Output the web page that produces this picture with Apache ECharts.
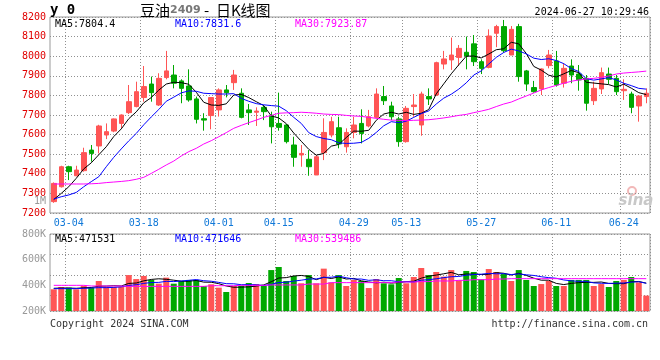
<!DOCTYPE html>
<html><head><meta charset="utf-8">
<script src="https://cdn.jsdelivr.net/npm/echarts@6/dist/echarts.min.js"></script>
<style>html,body{margin:0;padding:0;background:#fff}#c{width:660px;height:360px}</style>
</head><body><div id="c"></div>
<script>
const dates = ['02-29','03-01','03-04','03-05','03-06','03-07','03-08','03-11','03-12','03-13','03-14','03-15','03-18','03-19','03-20','03-21','03-22','03-25','03-26','03-27','03-28','03-29','04-01','04-02','04-03','04-08','04-09','04-10','04-11','04-12','04-15','04-16','04-17','04-18','04-19','04-22','04-23','04-24','04-25','04-26','04-29','04-30','05-06','05-07','05-08','05-09','05-10','05-13','05-14','05-15','05-16','05-17','05-20','05-21','05-22','05-23','05-24','05-27','05-28','05-29','05-30','05-31','06-03','06-04','06-05','06-06','06-07','06-11','06-12','06-13','06-14','06-17','06-18','06-19','06-20','06-21','06-24','06-25','06-26','06-27'];
const tickDates = ['03-04','03-18','04-01','04-15','04-29','05-13','05-27','06-11','06-24'];
const opens  = [7258,7334,7436,7390,7416,7521,7542,7598,7618,7657, 7712,7743,7789,7858,7751,7891,7904,7874,7848,7782, 7681,7697,7726,7828,7865,7811,7726,7714,7739,7697, 7657,7649,7547,7496,7474,7394,7508,7598,7635,7538, 7611,7657,7644,7688,7794,7746,7680,7564,7743,7649, 7794,7802,7960,7981,7994,8020,8063,7972,7943,8117, 8151,8006,8151,7925,7840,7833,7952,7976,7862,7950, 7909,7887,7773,7833,7909,7887,7824,7807,7746,7794];
const closes = [7351,7436,7411,7419,7508,7504,7644,7615,7680,7700, 7768,7819,7845,7814,7887,7925,7862,7836,7777,7678, 7674,7789,7828,7814,7904,7688,7712,7720,7717,7640, 7637,7564,7484,7504,7436,7487,7611,7666,7552,7611, 7649,7606,7691,7807,7773,7691,7564,7734,7751,7807, 7782,7967,7986,8006,8040,8001,7972,7938,8103,8151, 8028,8137,7896,7858,7819,7935,8006,7853,7938,7904, 7879,7760,7836,7916,7882,7819,7831,7739,7797,7811];
const lows   = [7252,7330,7368,7388,7411,7462,7504,7577,7612,7632, 7705,7739,7768,7768,7746,7882,7836,7760,7768,7657, 7620,7627,7692,7790,7828,7683,7649,7644,7674,7555, 7620,7555,7436,7436,7390,7394,7470,7586,7530,7508, 7581,7555,7637,7683,7751,7674,7538,7559,7691,7594, 7751,7797,7933,7930,7950,7933,7950,7909,7938,8046, 8018,8006,7870,7823,7814,7802,7938,7845,7840,7862, 7824,7722,7751,7807,7858,7802,7777,7709,7666,7760];
const highs  = [7356,7441,7441,7441,7533,7547,7650,7657,7682,7703, 7853,7870,7950,7896,7913,8027,7955,7882,7933,7794, 7709,7789,7836,7853,7930,7836,7756,7739,7751,7717, 7814,7654,7589,7547,7521,7496,7683,7691,7691,7632, 7691,7729,7726,7836,7848,7768,7691,7746,7807,7819, 7836,7972,8027,8095,8057,8100,8108,7984,8137,8160, 8185,8154,8165,7930,7874,7938,8032,8027,7964,7984, 7955,7904,7870,7942,7942,7904,7882,7819,7802,7836];
const ma5  = [7269,7300,7334,7377,7425,7456,7497,7538,7590,7629, 7681,7716,7762,7789,7827,7858,7867,7865,7857,7816, 7765,7751,7749,7757,7802,7805,7789,7768,7748,7695, 7685,7656,7608,7566,7525,7495,7504,7541,7550,7585, 7618,7617,7622,7673,7705,7714,7705,7714,7703,7709, 7728,7808,7859,7910,7956,8000,8001,7991,8011,8033, 8038,8071,8063,8014,7948,7929,7903,7894,7910,7927, 7916,7867,7863,7859,7855,7843,7857,7837,7814,7804];
const ma10 = [7271,7283,7292,7305,7334,7360,7385,7436,7484,7527, 7568,7606,7650,7690,7728,7770,7791,7813,7823,7821, 7811,7809,7807,7807,7809,7785,7770,7758,7752,7748, 7745,7722,7688,7657,7610,7590,7580,7574,7558,7555, 7556,7560,7581,7611,7645,7666,7661,7668,7688,7707, 7721,7756,7786,7806,7832,7864,7904,7925,7960,7994, 8019,8036,8027,8012,7990,7983,7987,7978,7962,7937, 7922,7885,7878,7884,7891,7879,7862,7850,7836,7832];
const ma30 = [7348,7348,7348,7348,7348,7349,7351,7355,7358,7361, 7365,7372,7382,7402,7423,7445,7465,7491,7513,7530, 7552,7569,7589,7610,7632,7647,7661,7674,7688,7698, 7709,7711,7712,7714,7712,7709,7705,7703,7702,7698, 7695,7693,7688,7683,7678,7674,7673,7671,7673,7674, 7676,7680,7685,7691,7698,7703,7712,7720,7729,7743, 7756,7766,7782,7797,7812,7828,7840,7851,7862,7872, 7879,7884,7887,7892,7899,7909,7914,7917,7920,7924];
const volK = [369,387,382,369,397,382,434,387,387,387, 480,449,473,442,413,460,413,434,442,442, 395,408,382,348,395,397,418,410,395,519, 543,434,473,416,480,416,530,423,480,395, 442,434,379,449,416,408,457,416,465,535, 480,504,468,519,439,512,504,447,527,504, 488,434,519,442,395,410,434,395,395,442, 442,442,395,410,387,434,442,465,423,320];
const volMa5K = [377,379,379,377,381,383,393,394,397,395, 415,418,435,446,451,447,440,432,432,438, 425,424,413,395,385,386,388,394,403,428, 457,460,473,477,469,444,463,453,466,449, 454,435,426,420,424,417,422,429,432,456, 471,480,490,501,482,488,488,484,486,499, 494,480,494,477,456,440,440,415,406,415, 421,423,423,426,415,413,413,428,430,417];
const volMa10K = [374,374,374,374,377,379,382,382,384,388, 399,405,415,422,423,431,429,434,439,445, 436,432,423,413,412,405,406,404,399,407, 422,424,433,440,449,450,462,463,471,459, 449,449,439,443,436,436,428,428,426,440, 444,451,460,467,469,479,484,487,493,490, 491,484,489,482,477,467,460,455,442,435, 431,431,419,416,415,417,418,425,428,416];
const volMa30K = [400,400,400,400,400,395,395,395,395,395, 392,392,392,392,392,392,392,392,392,392, 392,397,397,397,397,400,400,400,400,403, 403,403,403,403,410,410,410,421,421,421, 421,421,421,421,421,421,426,426,426,429, 429,434,434,434,439,439,444,444,444,449, 449,452,452,452,452,452,452,452,452,452, 452,452,452,452,452,452,452,452,452,452];
const priceTicks = [7200, 8200, 100];
const volTicks = [200000, 800000, 200000];

const UP = '#ff5555', DOWN = '#00a800';
const GRIDC = '#999';
const MONO = '"DejaVu Sans Mono", monospace';
const candleData = dates.map((d, i) => [opens[i], closes[i], lows[i], highs[i]]);
const vols = volK.map(v => v * 1000);
const vMa5 = volMa5K.map(v => v * 1000), vMa10 = volMa10K.map(v => v * 1000), vMa30 = volMa30K.map(v => v * 1000);
const gridLine = { color: '#909090', type: [1, 2], width: 1 };
const vSplit = { show: true, interval: (i, v) => tickDates.indexOf(v) >= 0, lineStyle: gridLine };

function txt(x, y, text, fill, font, align, extra) {
  return Object.assign({ type: 'text', x: x, y: y, silent: true, z: 100,
    style: Object.assign({ text: text, fill: fill, font: font, align: align || 'left', textAlign: align || 'left', verticalAlign: 'middle', textVerticalAlign: 'middle' }, extra || {}) });
}

const chart = echarts.init(document.getElementById('c'));
chart.setOption({
  animation: false,
  grid: [
    { left: 50, width: 600, top: 17, height: 196, show: true, borderColor: GRIDC, borderWidth: 1 },
    { left: 50, width: 600, top: 234, height: 77, show: true, borderColor: GRIDC, borderWidth: 1 }
  ],
  xAxis: [
    { type: 'category', gridIndex: 0, z: 2, data: dates, boundaryGap: true,
      axisLine: { show: false }, axisTick: { show: false }, splitLine: vSplit,
      axisLabel: { interval: (i, v) => tickDates.indexOf(v) >= 0, color: '#1078d8', fontFamily: MONO, fontSize: 10, margin: 5 } },
    { type: 'category', gridIndex: 1, z: 2, data: dates, boundaryGap: true,
      axisLine: { show: false }, axisTick: { show: false }, axisLabel: { show: false }, splitLine: vSplit }
  ],
  yAxis: [
    { type: 'value', gridIndex: 0, z: 2, min: priceTicks[0], max: priceTicks[1], interval: priceTicks[2],
      axisLine: { show: false }, axisTick: { show: false },
      axisLabel: { color: '#e00000', fontFamily: MONO, fontSize: 10, margin: 4, formatter: v => String(v) },
      splitLine: { show: true, lineStyle: gridLine } },
    { type: 'value', gridIndex: 1, z: 2, min: volTicks[0], max: volTicks[1], interval: volTicks[2],
      axisLine: { show: false }, axisTick: { show: false }, splitLine: { show: false },
      axisLabel: { color: '#999', fontFamily: MONO, fontSize: 10, margin: 4, formatter: v => (v / 1000) + 'K' } },
    { type: 'value', gridIndex: 1, z: 2, min: 0, max: 75, interval: 20, inverse: true,
      axisLine: { show: false }, axisTick: { show: false }, axisLabel: { show: false },
      splitLine: { show: true, lineStyle: gridLine } }
  ],
  series: [
    { type: 'candlestick', xAxisIndex: 0, yAxisIndex: 0, data: candleData, barWidth: 5,
      itemStyle: { color: UP, color0: DOWN, borderColor: UP, borderColor0: DOWN, borderWidth: 1 }, z: 3 },
    { type: 'line', xAxisIndex: 0, yAxisIndex: 0, data: ma5, showSymbol: false, symbol: 'none', lineStyle: { color: '#000', width: 1 }, z: 4 },
    { type: 'line', xAxisIndex: 0, yAxisIndex: 0, data: ma10, showSymbol: false, symbol: 'none', lineStyle: { color: '#0000ff', width: 1 }, z: 4 },
    { type: 'line', xAxisIndex: 0, yAxisIndex: 0, data: ma30, showSymbol: false, symbol: 'none', lineStyle: { color: '#ff00ff', width: 1 }, z: 4 },
    { type: 'bar', xAxisIndex: 1, yAxisIndex: 1, data: vols, barWidth: 6, clip: true,
      itemStyle: { color: p => closes[p.dataIndex] >= opens[p.dataIndex] ? UP : DOWN }, z: 3 },
    { type: 'line', xAxisIndex: 1, yAxisIndex: 1, data: vMa5, showSymbol: false, symbol: 'none', lineStyle: { color: '#000', width: 1 }, z: 4 },
    { type: 'line', xAxisIndex: 1, yAxisIndex: 1, data: vMa10, showSymbol: false, symbol: 'none', lineStyle: { color: '#0000ff', width: 1 }, z: 4 },
    { type: 'line', xAxisIndex: 1, yAxisIndex: 1, data: vMa30, showSymbol: false, symbol: 'none', lineStyle: { color: '#ff00ff', width: 1 }, z: 4 }
  ],
  graphic: [
    txt(50, 10, 'y 0', '#000', 'bold 14px ' + MONO),
    { type: 'text', x: 140, y: 10, silent: true, z: 100,
      style: { text: '{a|豆油}{b|2409}{a| -  日K线图}', align: 'left', textAlign: 'left', verticalAlign: 'middle', textVerticalAlign: 'middle',
        rich: { a: { fill: '#000', color: '#000', font: '15px "Noto Sans CJK SC"' }, b: { fill: '#777', color: '#777', font: 'bold 11px "DejaVu Sans"' } } } },
    txt(649, 12, '2024-06-27 10:29:46', '#000', '10px ' + MONO, 'right'),
    txt(55, 24, 'MA5:7804.4', '#000', '10px ' + MONO),
    txt(175, 24, 'MA10:7831.6', '#0000ff', '10px ' + MONO),
    txt(295, 24, 'MA30:7923.87', '#ff00ff', '10px ' + MONO),
    txt(55, 239, 'MA5:471531', '#000', '10px ' + MONO),
    txt(175, 239, 'MA10:471646', '#0000ff', '10px ' + MONO),
    txt(295, 239, 'MA30:539486', '#ff00ff', '10px ' + MONO),
    txt(46, 201, '1M', '#999', '10px ' + MONO, 'right'),
    txt(50, 324, 'Copyright 2024 SINA.COM', '#333', '10px ' + MONO),
    txt(648, 324, 'http://finance.sina.com.cn', '#333', '10px ' + MONO, 'right'),
    { type: 'circle', shape: { cx: 632, cy: 191, r: 4 }, silent: true, z: 1, style: { fill: 'none', stroke: '#f2b8b8', lineWidth: 2 } },
    txt(636, 201, 'sina', '#c8c8c8', 'italic bold 15px "DejaVu Sans"', 'center')
  ]
});
</script>
</body></html>
